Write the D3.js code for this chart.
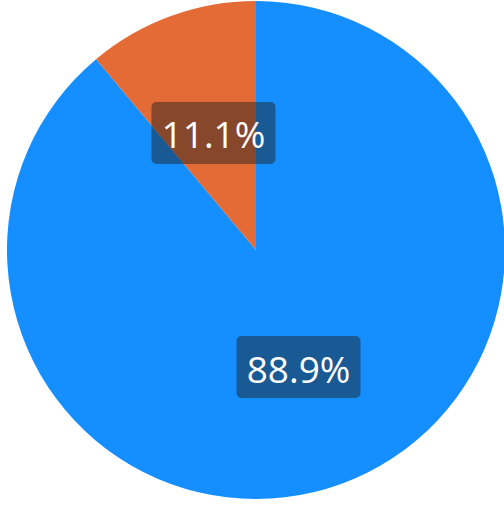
<!DOCTYPE html>
<html><head><meta charset="utf-8">
<script src="https://cdn.jsdelivr.net/npm/d3@7"></script>
<style>html,body{margin:0;padding:0;background:#fff;overflow:hidden}</style>
</head><body>
<svg id="chart" width="504" height="505"></svg>
<script>
const categories = ["A", "B"];
const values = [88.9, 11.1];
const colors = ["#158eff", "#e46b36"];

const svg = d3.select("#chart");
const cx = 256, cy = 250, r = 249;
const g = svg.append("g").attr("transform", `translate(${cx},${cy})`);

const pie = d3.pie().sort(null).value(d => d.v);
const data = pie(categories.map((c, i) => ({c, v: values[i]})));
const arc = d3.arc().innerRadius(0).outerRadius(r);
const color = d3.scaleOrdinal().domain(categories).range(colors);

g.selectAll("path.slice").data(data).join("path")
  .attr("class", "slice")
  .attr("d", arc)
  .attr("fill", d => color(d.data.c));

const labels = g.selectAll("g.lbl").data(data).join("g")
  .attr("class", "lbl")
  .attr("transform", d => `translate(${arc.centroid(d)})`);

labels.each(function(d) {
  const sel = d3.select(this);
  sel.append("text")
    .attr("text-anchor", "middle")
    .attr("dominant-baseline", "central")
    .attr("y", 1)
    .attr("font-family", "'Open Sans', 'Noto Sans', sans-serif")
    .attr("font-size", 37)
    .attr("fill", "#fff")
    .text(d3.format(".1f")(d.data.v) + "%");
  const w = 124, h = 62;
  sel.insert("rect", "text")
    .attr("x", -w / 2).attr("y", -h / 2)
    .attr("width", w).attr("height", h)
    .attr("rx", 5).attr("ry", 5)
    .attr("fill", "rgba(32,32,32,0.48)");
});
</script>
</body></html>
